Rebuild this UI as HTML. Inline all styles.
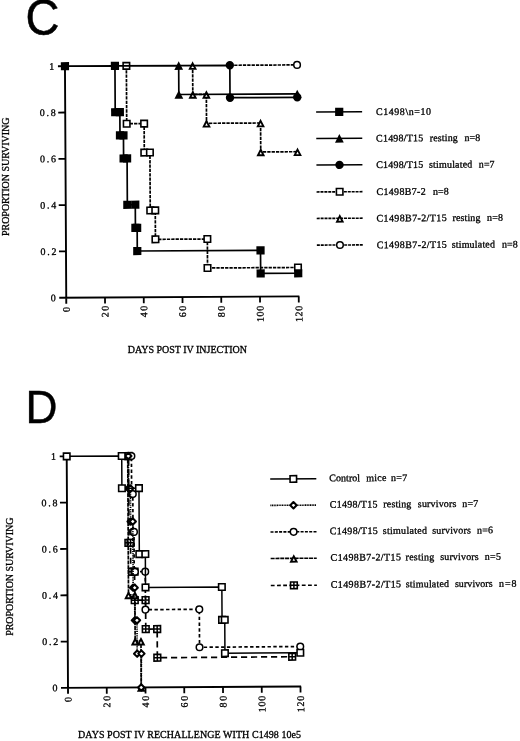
<!DOCTYPE html>
<html lang="en"><head><meta charset="utf-8"><title>Figure C/D survival curves</title>
<style>
html,body{margin:0;padding:0;background:#fff;}
body{width:520px;height:741px;overflow:hidden;}
svg{display:block;filter:grayscale(1);}
text{fill:#000;}
.s{font-family:"Liberation Serif","Times New Roman",serif;font-size:10px;stroke:#000;stroke-width:0.3px;}
.h{font-family:"Liberation Sans",Arial,Helvetica,sans-serif;stroke:#000;}
</style></head><body>
<svg width="520" height="741" viewBox="0 0 520 741">
<rect width="520" height="741" fill="#fff"/>
<g transform="translate(66.25 297.7) rotate(-0.32)">
<path d="M0 -232V6M-7 0H233.1" stroke="#000" stroke-width="1.9" fill="none"/>
<path d="M-7 -46.3H0M-7 -92.6H0M-7 -138.9H0M-7 -185.2H0M-7 -231.5H0M38.75 0V6M77.5 0V6M116.25 0V6M155 0V6M193.75 0V6M232.5 0V6" stroke="#000" stroke-width="1.8" fill="none"/>
<text x="-10.6" y="3.4" text-anchor="end" class="s">0</text>
<text x="-25.5" y="-42.9" letter-spacing="1.7" class="s">0.2</text>
<text x="-25.5" y="-89.2" letter-spacing="1.7" class="s">0.4</text>
<text x="-25.5" y="-135.5" letter-spacing="1.7" class="s">0.6</text>
<text x="-25.5" y="-181.8" letter-spacing="1.7" class="s">0.8</text>
<text x="-10.75" y="-228.1" text-anchor="end" class="s">1</text>
<text transform="translate(3.5 14.22) rotate(-90)" letter-spacing="0" class="s">0</text>
<text transform="translate(42.25 19.84) rotate(-90)" letter-spacing="1.6" class="s">20</text>
<text transform="translate(81 20.05) rotate(-90)" letter-spacing="1.6" class="s">40</text>
<text transform="translate(119.75 20.27) rotate(-90)" letter-spacing="1.6" class="s">60</text>
<text transform="translate(158.5 20.49) rotate(-90)" letter-spacing="1.6" class="s">80</text>
<text transform="translate(197.25 25.5) rotate(-90)" letter-spacing="0.7" class="s">100</text>
<text transform="translate(236 25.72) rotate(-90)" letter-spacing="0.7" class="s">120</text>
<path d="M164.88 -231.5L232.11 -231.5" fill="none" stroke="#000" stroke-width="1.7" stroke-dasharray="3.3 1.05"/><circle cx="232.11" cy="-231.5" r="3.3" fill="#fff" stroke="#000" stroke-width="1.5"/>
<path d="M127.68 -231.5L127.68 -202.56L141.24 -202.56L141.24 -173.62L195.3 -173.62L195.3 -144.69L232.11 -144.69" fill="none" stroke="#000" stroke-width="1.7" stroke-dasharray="3.3 1.05"/><path d="M127.68 -233.62L130.48 -228.15H124.88Z" fill="#fff" stroke="#000" stroke-width="1.9" stroke-linejoin="miter" stroke-miterlimit="10"/><path d="M127.68 -204.68L130.48 -199.21H124.88Z" fill="#fff" stroke="#000" stroke-width="1.9" stroke-linejoin="miter" stroke-miterlimit="10"/><path d="M141.24 -204.68L144.04 -199.21H138.44Z" fill="#fff" stroke="#000" stroke-width="1.9" stroke-linejoin="miter" stroke-miterlimit="10"/><path d="M141.24 -175.75L144.04 -170.28H138.44Z" fill="#fff" stroke="#000" stroke-width="1.9" stroke-linejoin="miter" stroke-miterlimit="10"/><path d="M195.3 -175.75L198.1 -170.28H192.5Z" fill="#fff" stroke="#000" stroke-width="1.9" stroke-linejoin="miter" stroke-miterlimit="10"/><path d="M195.3 -146.81L198.1 -141.34H192.5Z" fill="#fff" stroke="#000" stroke-width="1.9" stroke-linejoin="miter" stroke-miterlimit="10"/><path d="M232.11 -146.81L234.91 -141.34H229.31Z" fill="#fff" stroke="#000" stroke-width="1.9" stroke-linejoin="miter" stroke-miterlimit="10"/>
<path d="M61.42 -231.5L61.42 -173.62L78.86 -173.62L78.86 -144.69L84.48 -144.69L84.48 -86.81L89.51 -86.81L89.51 -57.88L141.44 -57.88L141.44 -28.94L231.92 -28.94" fill="none" stroke="#000" stroke-width="1.7" stroke-dasharray="3.3 1.05"/><rect x="58.17" y="-234.75" width="6.5" height="6.5" fill="#fff" stroke="#000" stroke-width="1.6"/><rect x="58.17" y="-176.88" width="6.5" height="6.5" fill="#fff" stroke="#000" stroke-width="1.6"/><rect x="75.61" y="-176.88" width="6.5" height="6.5" fill="#fff" stroke="#000" stroke-width="1.6"/><rect x="75.61" y="-147.94" width="6.5" height="6.5" fill="#fff" stroke="#000" stroke-width="1.6"/><rect x="81.23" y="-147.94" width="6.5" height="6.5" fill="#fff" stroke="#000" stroke-width="1.6"/><rect x="81.23" y="-90.06" width="6.5" height="6.5" fill="#fff" stroke="#000" stroke-width="1.6"/><rect x="86.26" y="-90.06" width="6.5" height="6.5" fill="#fff" stroke="#000" stroke-width="1.6"/><rect x="86.26" y="-61.12" width="6.5" height="6.5" fill="#fff" stroke="#000" stroke-width="1.6"/><rect x="138.19" y="-61.12" width="6.5" height="6.5" fill="#fff" stroke="#000" stroke-width="1.6"/><rect x="138.19" y="-32.19" width="6.5" height="6.5" fill="#fff" stroke="#000" stroke-width="1.6"/><rect x="228.67" y="-32.19" width="6.5" height="6.5" fill="#fff" stroke="#000" stroke-width="1.6"/>
<path d="M113.73 -231.5L164.88 -231.5L164.88 -199.09L232.11 -199.09" fill="none" stroke="#000" stroke-width="1.7"/><circle cx="164.88" cy="-231.5" r="4.2" fill="#000"/><circle cx="164.88" cy="-199.09" r="4.2" fill="#000"/><circle cx="232.11" cy="-199.09" r="4.2" fill="#000"/>
<path d="M49.99 -231.5L113.73 -231.5L113.73 -202.56L232.11 -202.56" fill="none" stroke="#000" stroke-width="1.7"/><path d="M113.73 -235.7L118.13 -227.2H109.33Z" fill="#000"/><path d="M113.73 -206.76L118.13 -198.26H109.33Z" fill="#000"/><path d="M232.11 -206.76L236.51 -198.26H227.71Z" fill="#000"/>
<path d="M0 -231.5L49.99 -231.5L49.99 -185.2L54.64 -185.2L54.64 -162.05L58.12 -162.05L58.12 -138.9L61.61 -138.9L61.61 -92.6L69.56 -92.6L69.56 -69.45L71.3 -69.45L71.3 -46.3L194.53 -46.3L194.53 -23.15L232.11 -23.15" fill="none" stroke="#000" stroke-width="1.7"/><rect x="-4.1" y="-235.6" width="8.2" height="8.2" fill="#000"/><rect x="45.89" y="-235.6" width="8.2" height="8.2" fill="#000"/><rect x="45.89" y="-189.3" width="8.2" height="8.2" fill="#000"/><rect x="50.54" y="-189.3" width="8.2" height="8.2" fill="#000"/><rect x="50.54" y="-166.15" width="8.2" height="8.2" fill="#000"/><rect x="54.02" y="-166.15" width="8.2" height="8.2" fill="#000"/><rect x="54.02" y="-143" width="8.2" height="8.2" fill="#000"/><rect x="57.51" y="-143" width="8.2" height="8.2" fill="#000"/><rect x="57.51" y="-96.7" width="8.2" height="8.2" fill="#000"/><rect x="65.46" y="-96.7" width="8.2" height="8.2" fill="#000"/><rect x="65.46" y="-73.55" width="8.2" height="8.2" fill="#000"/><rect x="67.2" y="-73.55" width="8.2" height="8.2" fill="#000"/><rect x="67.2" y="-50.4" width="8.2" height="8.2" fill="#000"/><rect x="190.43" y="-50.4" width="8.2" height="8.2" fill="#000"/><rect x="190.43" y="-27.25" width="8.2" height="8.2" fill="#000"/><rect x="228.01" y="-27.25" width="8.2" height="8.2" fill="#000"/>
</g>
<g transform="rotate(-0.32 340 180)">
<path d="M316.5 111.9H362.5" stroke="#000" stroke-width="1.6"/>
<rect x="335.5" y="107.8" width="8.2" height="8.2" fill="#000"/>
<text y="115.3" class="s"><tspan x="376.3" letter-spacing="0.56">C1498\n=10</tspan></text>
<path d="M316.5 138.3H362.5" stroke="#000" stroke-width="1.6"/>
<path d="M339.6 134.1L344 142.6H335.2Z" fill="#000"/>
<text y="141.7" class="s"><tspan x="376.3" letter-spacing="0.19">C1498/T15</tspan> <tspan x="430" letter-spacing="0.13">resting</tspan> <tspan x="464.6" letter-spacing="0.13">n=8</tspan></text>
<path d="M316.5 164.9H362.5" stroke="#000" stroke-width="1.6"/>
<circle cx="339.6" cy="164.9" r="4.2" fill="#000"/>
<text y="168.3" class="s"><tspan x="376.3" letter-spacing="0.19">C1498/T15</tspan> <tspan x="429.1" letter-spacing="0.18">stimulated</tspan> <tspan x="478.93" letter-spacing="0.05">n=7</tspan></text>
<path d="M316.5 191.8H362.5" stroke="#000" stroke-width="1.6" stroke-dasharray="3 0.9"/>
<rect x="336.35" y="188.55" width="6.5" height="6.5" fill="#fff" stroke="#000" stroke-width="1.6"/>
<text y="195.2" class="s"><tspan x="376.3" letter-spacing="0.34">C1498B7-2</tspan> <tspan x="432.83" letter-spacing="0.05">n=8</tspan></text>
<path d="M316.5 218.3H362.5" stroke="#000" stroke-width="1.6" stroke-dasharray="3 0.9"/>
<path d="M339.6 216.18L342.4 221.65H336.8Z" fill="#fff" stroke="#000" stroke-width="1.9" stroke-linejoin="miter" stroke-miterlimit="10"/>
<text y="221.7" class="s"><tspan x="376.3" letter-spacing="0.38">C1498B7-2/T15</tspan> <tspan x="452.2" letter-spacing="0.13">resting</tspan> <tspan x="486.8" letter-spacing="0.13">n=8</tspan></text>
<path d="M316.5 245.0H362.5" stroke="#000" stroke-width="1.6" stroke-dasharray="3 0.9"/>
<circle cx="339.6" cy="245" r="3.3" fill="#fff" stroke="#000" stroke-width="1.5"/>
<text y="248.4" class="s"><tspan x="376.3" letter-spacing="0.38">C1498B7-2/T15</tspan> <tspan x="451.3" letter-spacing="0.18">stimulated</tspan> <tspan x="501.58" letter-spacing="0.05">n=8</tspan></text>
</g>
<text x="127.7" y="352.6" textLength="119.3" lengthAdjust="spacing" class="s">DAYS POST IV INJECTION</text>
<text transform="translate(8.9 236) rotate(-90)" textLength="118.5" lengthAdjust="spacing" class="s">PROPORTION SURVIVING</text>
<text transform="translate(25.4 35.2) scale(1 1.07)" class="h" font-size="47" stroke-width="0.5">C</text>
<g transform="translate(68 687.85) rotate(-0.32)">
<path d="M0 -232V6M-7 0H233.1" stroke="#000" stroke-width="1.9" fill="none"/>
<path d="M-7 -46.3H0M-7 -92.6H0M-7 -138.9H0M-7 -185.2H0M-7 -231.5H0M38.75 0V6M77.5 0V6M116.25 0V6M155 0V6M193.75 0V6M232.5 0V6" stroke="#000" stroke-width="1.8" fill="none"/>
<text x="-10.6" y="3.4" text-anchor="end" class="s">0</text>
<text x="-25.5" y="-42.9" letter-spacing="1.7" class="s">0.2</text>
<text x="-25.5" y="-89.2" letter-spacing="1.7" class="s">0.4</text>
<text x="-25.5" y="-135.5" letter-spacing="1.7" class="s">0.6</text>
<text x="-25.5" y="-181.8" letter-spacing="1.7" class="s">0.8</text>
<text x="-10.75" y="-228.1" text-anchor="end" class="s">1</text>
<text transform="translate(3.5 14.22) rotate(-90)" letter-spacing="0" class="s">0</text>
<text transform="translate(42.25 19.84) rotate(-90)" letter-spacing="1.6" class="s">20</text>
<text transform="translate(81 20.05) rotate(-90)" letter-spacing="1.6" class="s">40</text>
<text transform="translate(119.75 20.27) rotate(-90)" letter-spacing="1.6" class="s">60</text>
<text transform="translate(158.5 20.49) rotate(-90)" letter-spacing="1.6" class="s">80</text>
<text transform="translate(197.25 25.5) rotate(-90)" letter-spacing="0.7" class="s">100</text>
<text transform="translate(236 25.72) rotate(-90)" letter-spacing="0.7" class="s">120</text>
<path d="M55.02 -231.5L61.81 -231.5L61.81 -144.69L63.36 -144.69L63.36 -115.75L67.23 -115.75L67.23 -87.28L78.08 -87.28L78.08 -58.34L89.51 -58.34L89.51 -29.63L224.36 -29.86" fill="none" stroke="#000" stroke-width="1.7" stroke-dasharray="6.2 3.8"/><rect x="58.46" y="-234.85" width="6.7" height="6.7" fill="#fff" stroke="#000" stroke-width="1.6"/><path d="M61.81 -234.85V-228.15M58.46 -231.5H65.16" stroke="#000" stroke-width="1.5" fill="none"/><rect x="57.88" y="-148.04" width="6.7" height="6.7" fill="#fff" stroke="#000" stroke-width="1.6"/><path d="M61.23 -148.04V-141.34M57.88 -144.69H64.58" stroke="#000" stroke-width="1.5" fill="none"/><rect x="60.01" y="-148.04" width="6.7" height="6.7" fill="#fff" stroke="#000" stroke-width="1.6"/><path d="M63.36 -148.04V-141.34M60.01 -144.69H66.71" stroke="#000" stroke-width="1.5" fill="none"/><rect x="61.36" y="-119.1" width="6.7" height="6.7" fill="#fff" stroke="#000" stroke-width="1.6"/><path d="M64.71 -119.1V-112.4M61.36 -115.75H68.06" stroke="#000" stroke-width="1.5" fill="none"/><rect x="63.88" y="-119.1" width="6.7" height="6.7" fill="#fff" stroke="#000" stroke-width="1.6"/><path d="M67.23 -119.1V-112.4M63.88 -115.75H70.58" stroke="#000" stroke-width="1.5" fill="none"/><rect x="63.88" y="-90.63" width="6.7" height="6.7" fill="#fff" stroke="#000" stroke-width="1.6"/><path d="M67.23 -90.63V-83.93M63.88 -87.28H70.58" stroke="#000" stroke-width="1.5" fill="none"/><rect x="74.73" y="-90.63" width="6.7" height="6.7" fill="#fff" stroke="#000" stroke-width="1.6"/><path d="M78.08 -90.63V-83.93M74.73 -87.28H81.43" stroke="#000" stroke-width="1.5" fill="none"/><rect x="74.73" y="-61.69" width="6.7" height="6.7" fill="#fff" stroke="#000" stroke-width="1.6"/><path d="M78.08 -61.69V-54.99M74.73 -58.34H81.43" stroke="#000" stroke-width="1.5" fill="none"/><rect x="86.16" y="-61.69" width="6.7" height="6.7" fill="#fff" stroke="#000" stroke-width="1.6"/><path d="M89.51 -61.69V-54.99M86.16 -58.34H92.86" stroke="#000" stroke-width="1.5" fill="none"/><rect x="86.16" y="-32.98" width="6.7" height="6.7" fill="#fff" stroke="#000" stroke-width="1.6"/><path d="M89.51 -32.98V-26.28M86.16 -29.63H92.86" stroke="#000" stroke-width="1.5" fill="none"/><rect x="221.01" y="-33.21" width="6.7" height="6.7" fill="#fff" stroke="#000" stroke-width="1.6"/><path d="M224.36 -33.21V-26.51M221.01 -29.86H227.71" stroke="#000" stroke-width="1.5" fill="none"/>
<path d="M55.02 -231.5L61.03 -231.5L61.03 -92.6L67.42 -92.6L67.42 -46.3L73.24 -46.3L73.24 0" fill="none" stroke="#000" stroke-width="1.7" stroke-dasharray="4 0.8"/><path d="M61.03 -233.62L63.83 -228.15H58.23Z" fill="#fff" stroke="#000" stroke-width="1.9" stroke-linejoin="miter" stroke-miterlimit="10"/><path d="M61.03 -94.72L63.83 -89.25H58.23Z" fill="#fff" stroke="#000" stroke-width="1.9" stroke-linejoin="miter" stroke-miterlimit="10"/><path d="M67.42 -94.72L70.22 -89.25H64.62Z" fill="#fff" stroke="#000" stroke-width="1.9" stroke-linejoin="miter" stroke-miterlimit="10"/><path d="M67.42 -48.42L70.22 -42.95H64.62Z" fill="#fff" stroke="#000" stroke-width="1.9" stroke-linejoin="miter" stroke-miterlimit="10"/><path d="M73.24 -48.42L76.04 -42.95H70.44Z" fill="#fff" stroke="#000" stroke-width="1.9" stroke-linejoin="miter" stroke-miterlimit="10"/><path d="M73.24 -2.12L76.04 3.35H70.44Z" fill="#fff" stroke="#000" stroke-width="1.9" stroke-linejoin="miter" stroke-miterlimit="10"/>
<path d="M55.02 -231.5L64.71 -231.5L64.71 -193.53L65.88 -193.53L65.88 -155.57L66.84 -155.57L66.84 -115.75L67.62 -115.75L77.89 -115.75L77.89 -77.78L131.75 -77.78L131.75 -39.82L232.5 -40.05" fill="none" stroke="#000" stroke-width="1.7" stroke-dasharray="3.4 2.4"/><circle cx="64.71" cy="-231.5" r="3.3" fill="#fff" stroke="#000" stroke-width="1.5"/><circle cx="64.71" cy="-193.53" r="3.3" fill="#fff" stroke="#000" stroke-width="1.5"/><circle cx="65.88" cy="-193.53" r="3.3" fill="#fff" stroke="#000" stroke-width="1.5"/><circle cx="65.88" cy="-155.57" r="3.3" fill="#fff" stroke="#000" stroke-width="1.5"/><circle cx="66.84" cy="-155.57" r="3.3" fill="#fff" stroke="#000" stroke-width="1.5"/><circle cx="67.62" cy="-115.75" r="3.3" fill="#fff" stroke="#000" stroke-width="1.5"/><circle cx="77.89" cy="-115.75" r="3.3" fill="#fff" stroke="#000" stroke-width="1.5"/><circle cx="77.89" cy="-77.78" r="3.3" fill="#fff" stroke="#000" stroke-width="1.5"/><circle cx="131.75" cy="-77.78" r="3.3" fill="#fff" stroke="#000" stroke-width="1.5"/><circle cx="131.75" cy="-39.82" r="3.3" fill="#fff" stroke="#000" stroke-width="1.5"/><circle cx="232.5" cy="-40.05" r="3.3" fill="#fff" stroke="#000" stroke-width="1.5"/>
<path d="M55.02 -231.5L61.61 -231.5L61.61 -199.09L63.55 -199.09L63.55 -165.99L65.68 -165.99L65.68 -99.78L67.23 -99.78L67.23 -67.13L69.36 -67.13L69.36 -33.8L73.62 -33.8L73.24 0" fill="none" stroke="#000" stroke-width="1.7" stroke-dasharray="1.2 1"/><path d="M61.61 -234.7L64.81 -231.5L61.61 -228.3L58.41 -231.5Z" fill="#fff" stroke="#000" stroke-width="2" stroke-linejoin="round"/><path d="M61.61 -202.29L64.81 -199.09L61.61 -195.89L58.41 -199.09Z" fill="#fff" stroke="#000" stroke-width="2" stroke-linejoin="round"/><path d="M63.55 -202.29L66.75 -199.09L63.55 -195.89L60.35 -199.09Z" fill="#fff" stroke="#000" stroke-width="2" stroke-linejoin="round"/><path d="M63.55 -169.19L66.75 -165.99L63.55 -162.79L60.35 -165.99Z" fill="#fff" stroke="#000" stroke-width="2" stroke-linejoin="round"/><path d="M65.68 -169.19L68.88 -165.99L65.68 -162.79L62.48 -165.99Z" fill="#fff" stroke="#000" stroke-width="2" stroke-linejoin="round"/><path d="M65.68 -102.98L68.88 -99.78L65.68 -96.58L62.48 -99.78Z" fill="#fff" stroke="#000" stroke-width="2" stroke-linejoin="round"/><path d="M67.23 -102.98L70.43 -99.78L67.23 -96.58L64.03 -99.78Z" fill="#fff" stroke="#000" stroke-width="2" stroke-linejoin="round"/><path d="M67.23 -70.33L70.43 -67.13L67.23 -63.93L64.03 -67.13Z" fill="#fff" stroke="#000" stroke-width="2" stroke-linejoin="round"/><path d="M69.36 -70.33L72.56 -67.13L69.36 -63.93L66.16 -67.13Z" fill="#fff" stroke="#000" stroke-width="2" stroke-linejoin="round"/><path d="M69.36 -37L72.56 -33.8L69.36 -30.6L66.16 -33.8Z" fill="#fff" stroke="#000" stroke-width="2" stroke-linejoin="round"/><path d="M73.62 -37L76.83 -33.8L73.62 -30.6L70.42 -33.8Z" fill="#fff" stroke="#000" stroke-width="2" stroke-linejoin="round"/><path d="M73.24 -3.2L76.44 0L73.24 3.2L70.04 0Z" fill="#fff" stroke="#000" stroke-width="2" stroke-linejoin="round"/>
<path d="M0 -231.5L55.02 -231.5L55.02 -199.32L72.08 -199.32L72.08 -133.34L78.08 -133.34L78.08 -100.01L154.42 -100.01L154.42 -67.13L157.13 -67.13L157.13 -33.8L232.5 -33.8" fill="none" stroke="#000" stroke-width="1.5"/><rect x="-3.25" y="-234.75" width="6.5" height="6.5" fill="#fff" stroke="#000" stroke-width="1.6"/><rect x="51.77" y="-234.75" width="6.5" height="6.5" fill="#fff" stroke="#000" stroke-width="1.6"/><rect x="51.77" y="-202.57" width="6.5" height="6.5" fill="#fff" stroke="#000" stroke-width="1.6"/><rect x="68.83" y="-202.57" width="6.5" height="6.5" fill="#fff" stroke="#000" stroke-width="1.6"/><rect x="68.83" y="-136.59" width="6.5" height="6.5" fill="#fff" stroke="#000" stroke-width="1.6"/><rect x="74.83" y="-136.59" width="6.5" height="6.5" fill="#fff" stroke="#000" stroke-width="1.6"/><rect x="74.83" y="-103.26" width="6.5" height="6.5" fill="#fff" stroke="#000" stroke-width="1.6"/><rect x="151.17" y="-103.26" width="6.5" height="6.5" fill="#fff" stroke="#000" stroke-width="1.6"/><rect x="151.17" y="-70.38" width="6.5" height="6.5" fill="#fff" stroke="#000" stroke-width="1.6"/><rect x="153.88" y="-70.38" width="6.5" height="6.5" fill="#fff" stroke="#000" stroke-width="1.6"/><rect x="153.88" y="-37.05" width="6.5" height="6.5" fill="#fff" stroke="#000" stroke-width="1.6"/><rect x="229.25" y="-37.05" width="6.5" height="6.5" fill="#fff" stroke="#000" stroke-width="1.6"/>
</g>
<g transform="rotate(-0.32 300 530)">
<path d="M270.5 478.9H316.6" stroke="#000" stroke-width="1.6"/>
<rect x="290.35" y="475.65" width="6.5" height="6.5" fill="#fff" stroke="#000" stroke-width="1.6"/>
<text y="481.5" class="s"><tspan x="329.57" letter-spacing="0.05">Control</tspan> <tspan x="366.5" letter-spacing="0.26">mice</tspan> <tspan x="391.3" letter-spacing="0.28">n=7</tspan></text>
<path d="M270.5 505.2H316.6" stroke="#000" stroke-width="1.6" stroke-dasharray="1.1 0.55"/>
<path d="M293.6 502L296.8 505.2L293.6 508.4L290.4 505.2Z" fill="#fff" stroke="#000" stroke-width="2" stroke-linejoin="round"/>
<text y="507.8" class="s"><tspan x="329.8" letter-spacing="0.29">C1498/T15</tspan> <tspan x="383.5" letter-spacing="0.13">resting</tspan> <tspan x="418" letter-spacing="0.16">survivors</tspan> <tspan x="462.3" letter-spacing="0.28">n=7</tspan></text>
<path d="M270.5 531.8H316.6" stroke="#000" stroke-width="1.6" stroke-dasharray="3 1.3"/>
<circle cx="293.6" cy="531.8" r="3.3" fill="#fff" stroke="#000" stroke-width="1.5"/>
<text y="534.4" class="s"><tspan x="329.8" letter-spacing="0.29">C1498/T15</tspan> <tspan x="382.7" letter-spacing="0.29">stimulated</tspan> <tspan x="432.3" letter-spacing="0.16">survivors</tspan> <tspan x="477" letter-spacing="0.18">n=6</tspan></text>
<path d="M270.5 558.3H316.6" stroke="#000" stroke-width="1.6" stroke-dasharray="4 0.8"/>
<path d="M293.6 556.18L296.4 561.65H290.8Z" fill="#fff" stroke="#000" stroke-width="1.9" stroke-linejoin="miter" stroke-miterlimit="10"/>
<text y="560.9" class="s"><tspan x="330.4" letter-spacing="0.4">C1498B7-2/T15</tspan> <tspan x="405.4" letter-spacing="0.26">resting</tspan> <tspan x="440" letter-spacing="0.16">survivors</tspan> <tspan x="484.6" letter-spacing="0.28">n=5</tspan></text>
<path d="M270.5 585.3H316.6" stroke="#000" stroke-width="1.6" stroke-dasharray="3.8 2.4"/>
<rect x="290.25" y="581.95" width="6.7" height="6.7" fill="#fff" stroke="#000" stroke-width="1.6"/><path d="M293.6 581.95V588.65M290.25 585.3H296.95" stroke="#000" stroke-width="1.5" fill="none"/>
<text y="587.9" class="s"><tspan x="330.4" letter-spacing="0.4">C1498B7-2/T15</tspan> <tspan x="405.4" letter-spacing="0.19">stimulated</tspan> <tspan x="454.6" letter-spacing="0.06">survivors</tspan> <tspan x="498.8" letter-spacing="0.88">n=8</tspan></text>
</g>
<text x="78" y="738.2" textLength="223" lengthAdjust="spacing" class="s">DAYS POST IV RECHALLENGE WITH C1498 10e5</text>
<text transform="translate(13.4 635.8) rotate(-90)" textLength="118.3" lengthAdjust="spacing" class="s">PROPORTION SURVIVING</text>
<text transform="translate(25.5 423.1) scale(0.97 1.01)" class="h" font-size="45.7" stroke-width="0.4">D</text>
</svg>
</body></html>
